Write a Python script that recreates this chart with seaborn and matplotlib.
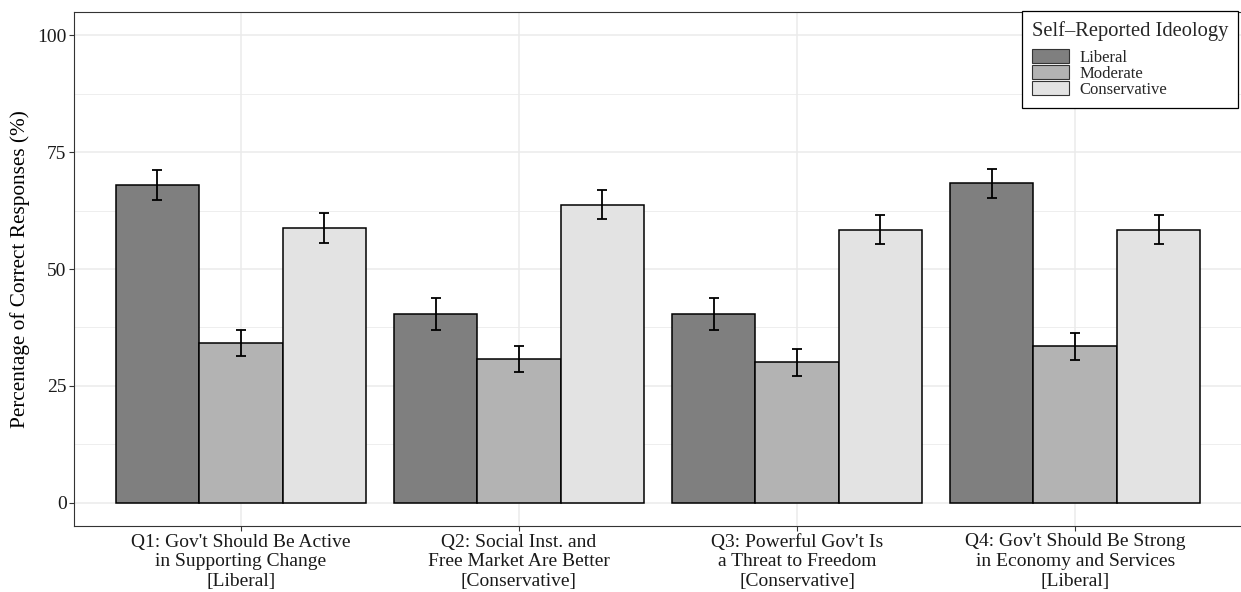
import matplotlib
matplotlib.use("Agg")
import matplotlib.pyplot as plt
import pandas as pd
import seaborn as sns
from matplotlib.patches import Patch
from matplotlib.ticker import MultipleLocator

# Survey items (x-axis categories)
questions = [
    "Q1: Gov't Should Be Active\nin Supporting Change\n[Liberal]",
    "Q2: Social Inst. and\nFree Market Are Better\n[Conservative]",
    "Q3: Powerful Gov't Is\na Threat to Freedom\n[Conservative]",
    "Q4: Gov't Should Be Strong\nin Economy and Services\n[Liberal]",
]
ideologies = ["Liberal", "Moderate", "Conservative"]

# Percentage of correct responses per ideology group
liberal_pct = [68.0, 40.4, 40.4, 68.3]
moderate_pct = [34.2, 30.7, 30.0, 33.5]
conservative_pct = [58.8, 63.8, 58.4, 58.4]

# Half-widths of the error bars
liberal_err = [3.2, 3.35, 3.35, 3.2]
moderate_err = [2.8, 2.8, 2.8, 2.9]
conservative_err = [3.2, 3.05, 3.15, 3.15]

fills = ["#7F7F7F", "#B3B3B3", "#E3E3E3"]
y_ticks = [0, 25, 50, 75, 100]

df = pd.DataFrame({
    "question": questions * 3,
    "ideology": [g for g in ideologies for _ in questions],
    "pct": liberal_pct + moderate_pct + conservative_pct,
})
errors = [liberal_err, moderate_err, conservative_err]

sns.set_theme(style="white")
plt.rcParams["font.family"] = ["Liberation Serif", "DejaVu Serif"]

fig = plt.figure(figsize=(12.41, 5.92), dpi=100)
ax = fig.add_axes([74 / 1241, 1 - 526 / 592, 1168 / 1241, 514 / 592])

sns.barplot(
    data=df, x="question", y="pct", hue="ideology",
    order=questions, hue_order=ideologies, palette=fills,
    width=0.9, gap=0, saturation=1, errorbar=None,
    edgecolor="black", linewidth=1.1, legend=False, ax=ax,
)

# Error bars placed on each drawn bar
for container, errs in zip(ax.containers, errors):
    for bar, e in zip(container, errs):
        cx = bar.get_x() + bar.get_width() / 2
        ax.errorbar(cx, bar.get_height(), yerr=e, fmt="none", ecolor="black",
                    elinewidth=1.3, capsize=3.4, capthick=1.3, zorder=5)

ax.set_xlim(-0.6, 3.6)
ax.set_ylim(-5, 105)
ax.set_yticks(y_ticks)
ax.yaxis.set_minor_locator(MultipleLocator(12.5))
ax.set_axisbelow(True)
ax.grid(which="major", color="#EBEBEB", linewidth=1.1)
ax.grid(which="minor", axis="y", color="#EBEBEB", linewidth=0.6)

ax.set_xlabel("")
ax.set_ylabel("Percentage of Correct Responses (%)", fontsize=15.3, color="black", labelpad=5)
ax.tick_params(axis="both", which="major", length=3.4, width=0.8, color="#333333",
               labelsize=14, labelcolor="#1A1A1A", pad=2, left=True, bottom=True)
ax.tick_params(axis="y", which="minor", length=0)
for lbl in ax.get_xticklabels():
    lbl.set_linespacing(1.2)

for s in ax.spines.values():
    s.set_visible(True)
    s.set_color("#333333")
    s.set_linewidth(0.8)

handles = [Patch(facecolor=c, edgecolor="#333333", linewidth=0.8, label=g)
           for c, g in zip(fills, ideologies)]
leg = ax.legend(
    handles=handles, title="Self\u2013Reported Ideology",
    loc="upper right", bbox_to_anchor=(1238 / 1241, 1 - 11 / 592),
    bbox_transform=fig.transFigure, borderaxespad=0,
    fontsize=12, title_fontsize=14.8, frameon=True, fancybox=False,
    edgecolor="black", framealpha=1, handlelength=2.25, handleheight=0.92,
    labelspacing=-0.06, handletextpad=0.6, borderpad=0.6,
)
leg.get_frame().set_linewidth(0.9)
leg._legend_box.align = "left"
leg._legend_box.sep = 6

fig.savefig("out.png", dpi=100)
